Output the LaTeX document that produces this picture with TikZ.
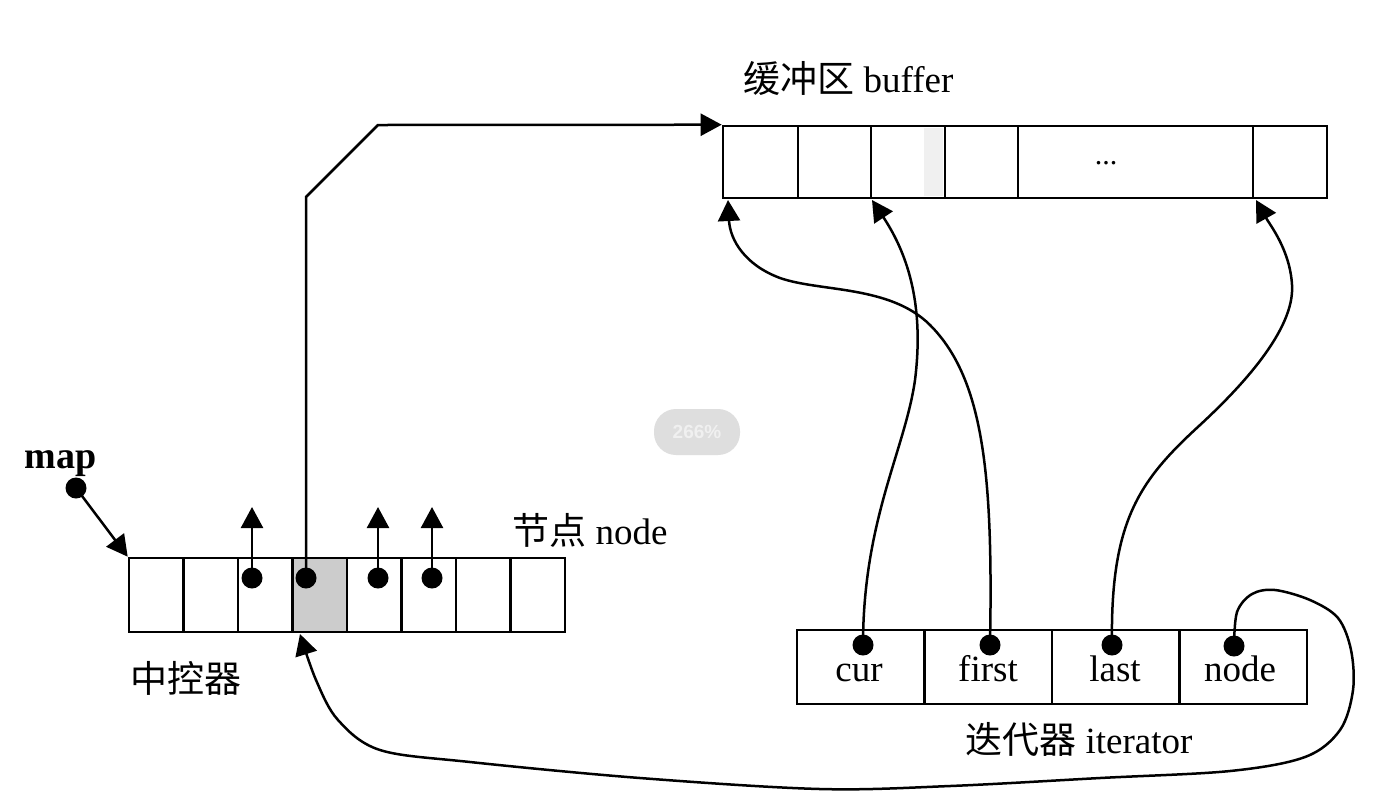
\documentclass[tikz,border=0pt]{standalone}
\usepackage{fontspec}
\setmainfont{Liberation Serif}
\newfontfamily\cjk{Noto Sans CJK SC}
\newfontfamily\uisans{Liberation Sans}
\usetikzlibrary{arrows.meta}

\begin{document}
\begin{tikzpicture}[x=0.5pt,y=-0.5pt,
  box/.style={draw, line width=1.3pt, inner sep=0pt},
  dot/.style={circle, fill=black, inner sep=0pt, minimum size=10.5pt},
  arr/.style={line width=1.25pt, -{Triangle[length=10.5pt,width=11pt]}},
  lbl/.style={font=\fontsize{18.5}{20}\selectfont, inner sep=0pt},
  mixlbl/.style={font=\fontsize{18.5}{20}\selectfont, inner sep=0pt, anchor=base west},
  pill/.style={fill=black!13, rounded corners=11pt, minimum width=43pt, minimum height=23pt,
               inner sep=0pt, text=black!6, font=\uisans\bfseries\fontsize{9.5}{10}\selectfont}]

\fill[white] (0,0) rectangle (1400,810);
\useasboundingbox (0,0) rectangle (1400,810);

% ---------------- buffer ----------------
\node[box, minimum width=37.5pt, minimum height=36pt] (b1) at (760.5,162) {};
\node[box, minimum width=36.5pt, minimum height=36pt] (b2) at (834.5,162) {};
\node[box, minimum width=37pt,   minimum height=36pt] (b3) at (908,162) {};
\fill[black!6] (924,128) rectangle (943,196);
\node[box, minimum width=37pt,   minimum height=36pt] (b3b) at (908,162) {};
\node[box, minimum width=36.5pt, minimum height=36pt] (b4) at (981.5,162) {};
\node[box, minimum width=117.5pt, minimum height=36pt] (b5) at (1135.5,162) {};
\node[box, minimum width=37pt,   minimum height=36pt] (b6) at (1290,162) {};
\node[font=\fontsize{15}{15}\selectfont, inner sep=0pt] (dots) at (1106,163) {...};
\node[mixlbl] (buflbl) at (743,92) {{\cjk 缓冲区} buffer};

% ---------------- map (中控器) ----------------
\foreach \k in {1,...,8} {
  \pgfmathsetmacro{\cx}{156.25+(\k-1)*54.5}
  \node[box, minimum width=27.25pt, minimum height=37pt] (m\k) at (\cx,595) {};
}
\node[box, fill=black!20, minimum width=27.25pt, minimum height=37pt] (m4s) at (319.75,595) {};
\node[mixlbl] (nodelbl) at (512,544) {{\cjk 节点} node};
\node[mixlbl] (ctrllbl) at (130,692) {{\cjk 中控器}};
\node[inner sep=0pt, anchor=base west, font=\bfseries\fontsize{19}{20}\selectfont] (maplbl) at (24,468) {map};

\node[dot] (mapdot) at (76,488) {};
\node[dot] (d3) at (252,578) {};
\node[dot] (d4) at (306,578) {};
\node[dot] (d5) at (378,578) {};
\node[dot] (d6) at (432,578) {};

\coordinate (t3) at (252,507);
\coordinate (t5) at (378,507);
\coordinate (t6) at (432,507);
\draw[arr] (d3.center) -- (t3);
\draw[arr] (d5.center) -- (t5);
\draw[arr] (d6.center) -- (t6);
\draw[arr] (mapdot.center) -- (m1.north west);

\coordinate (bendA) at (306,197);
\coordinate (bendB) at (378,125);
\draw[arr] (d4.center) -- (bendA) -- (bendB) -- (b1.north west);

% ---------------- iterator ----------------
\node[box, minimum width=63.75pt, minimum height=37pt] (i1) at (860.75,667) {};
\node[box, minimum width=63.75pt, minimum height=37pt] (i2) at (988.25,667) {};
\node[box, minimum width=63.75pt, minimum height=37pt] (i3) at (1115.75,667) {};
\node[box, minimum width=63.75pt, minimum height=37pt] (i4) at (1243.25,667) {};
\node[lbl, anchor=base] (lcur)   at (859,681) {cur};
\node[lbl, anchor=base] (lfirst) at (988,681) {first};
\node[lbl, anchor=base] (llast)  at (1115,681) {last};
\node[lbl, anchor=base] (lnode)  at (1240,681) {node};
\node[mixlbl] (itlbl) at (965,753) {{\cjk 迭代器} iterator};

\node[dot] (dcur)   at (863,645) {};
\node[dot] (dfirst) at (990,645) {};
\node[dot] (dlast)  at (1112,645) {};
\node[dot] (dnode)  at (1234,646) {};

\coordinate (tcur)   at (872,200);
\coordinate (tfirst) at (728,200);
\coordinate (tlast)  at (1256,200);
\coordinate (tnode)  at (300,634);
\coordinate (cA) at (915,380);
\coordinate (fA) at (930,325);
\coordinate (fB) at (780,278);
\coordinate (lA) at (1200,425);
\coordinate (lB) at (1292,285);

\draw[arr] (dcur.center) .. controls (863,520) and (905,450) .. (cA)
                         .. controls (925,300) and (905,250) .. (tcur);
\draw[arr] (dfirst.center) .. controls (993,480) and (985,380) .. (fA)
                           .. controls (890,285) and (820,292) .. (fB)
                           .. controls (745,265) and (730,240) .. (tfirst);
\draw[arr] (dlast.center) .. controls (1110,520) and (1140,480) .. (lA)
                          .. controls (1240,388) and (1295,330) .. (lB)
                          .. controls (1290,250) and (1270,225) .. (tlast);
\draw[arr] plot[smooth, tension=0.55] coordinates {(dnode.center) (1237,612) (1252,594) (1275,590) (1310,600) (1338,618) (1351,650) (1353,690) (1340,730) (1305,757) (1230,771) (1100,778) (950,786) (820,789) (640,778) (470,762) (380,750) (338,720) (316,680) (tnode)};

% zoom indicator of the screenshot
\node[pill] (zoomind) at (697,432) {266\%};
\end{tikzpicture}
\end{document}
